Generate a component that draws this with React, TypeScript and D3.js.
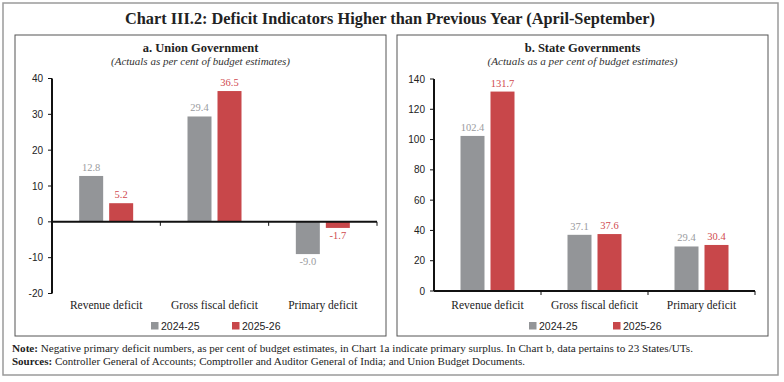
import React from "react";
import * as d3 from "d3";

const categories = ["Revenue deficit", "Gross fiscal deficit", "Primary deficit"];
const seriesNames = ["2024-25", "2025-26"];
const unionPrev = [12.8, 29.4, -9.0];
const unionCurr = [5.2, 36.5, -1.7];
const statePrev = [102.4, 37.1, 29.4];
const stateCurr = [131.7, 37.6, 30.4];
const unionTicks = [-20, -10, 0, 10, 20, 30, 40];
const stateTicks = [0, 20, 40, 60, 80, 100, 120, 140];

const GRAY = "#939598";
const RED = "#c8474a";
const GRAY_TXT = "#9a9b9e";
const RED_TXT = "#d04a4f";
const SERIF = "'Liberation Serif', 'DejaVu Serif', serif";
const SANS = "'Liberation Sans', Arial, sans-serif";

type PanelProps = {
  x0: number; x1: number; y0: number; y1: number;
  title: string; subtitle: string; subW: number;
  axisX: number; plotRight: number; yTop: number; yBot: number;
  domain: [number, number]; ticks: number[];
  prev: number[]; curr: number[];
  legendX: number[];
};

function Panel(p: PanelProps) {
  const y = d3.scaleLinear().domain(p.domain).range([p.yBot, p.yTop]);
  const x = d3.scaleBand<string>().domain(categories).range([p.axisX, p.plotRight]);
  const bw = 24;
  const gap = 6;
  const cx = (p.x0 + p.x1) / 2;
  const zeroY = y(0);
  return (
    <g>
      <rect x={p.x0} y={p.y0} width={p.x1 - p.x0} height={p.y1 - p.y0} fill="#fff" stroke="#555" strokeWidth={1} />
      <text x={cx} y={52} textAnchor="middle" fontFamily={SERIF} fontWeight="bold" fontSize={12.5} fill="#222">{p.title}</text>
      <text x={cx} y={65} textAnchor="middle" fontFamily={SERIF} fontStyle="italic" fontSize={10.5} fill="#333" textLength={p.subW} lengthAdjust="spacingAndGlyphs">{p.subtitle}</text>
      <line x1={p.axisX} x2={p.axisX} y1={p.yTop} y2={p.yBot} stroke="#111" strokeWidth={2} />
      {p.ticks.map((t) => (
        <g key={t}>
          <line x1={p.axisX - 4} x2={p.axisX} y1={y(t)} y2={y(t)} stroke="#111" strokeWidth={1} />
          <text x={p.axisX - 9} y={y(t) + 3.5} textAnchor="end" fontFamily={SANS} fontSize={10} fill="#222">{t}</text>
        </g>
      ))}
      {categories.map((c, i) => {
        const mid = (x(c) as number) + x.bandwidth() / 2;
        const vals = [p.prev[i], p.curr[i]];
        return (
          <g key={c}>
            {vals.map((v, j) => {
              const bx = j === 0 ? mid - gap / 2 - bw : mid + gap / 2;
              const top = Math.min(y(v), zeroY);
              const h = Math.abs(y(v) - zeroY);
              const ly = v >= 0 ? y(v) - 5 : y(v) + 11;
              return (
                <g key={j}>
                  <rect x={bx} y={top} width={bw} height={h} fill={j === 0 ? GRAY : RED} />
                  <text x={bx + bw / 2} y={ly} textAnchor="middle" fontFamily={SERIF} fontSize={10.5} fill={j === 0 ? GRAY_TXT : RED_TXT}>{v.toFixed(1)}</text>
                </g>
              );
            })}
            <text x={mid} y={309} textAnchor="middle" fontFamily={SERIF} fontSize={11.5} fill="#222">{c}</text>
            <line x1={(x(c) as number) + x.bandwidth()} x2={(x(c) as number) + x.bandwidth()} y1={zeroY} y2={zeroY + 4} stroke="#111" strokeWidth={1} />
          </g>
        );
      })}
      <line x1={p.axisX} x2={p.plotRight} y1={zeroY} y2={zeroY} stroke="#111" strokeWidth={2} />
      {seriesNames.map((s, j) => (
        <g key={s}>
          <rect x={p.legendX[j]} y={322} width={7.5} height={7.5} fill={j === 0 ? GRAY : RED} />
          <text x={p.legendX[j] + 10} y={330} fontFamily={SANS} fontSize={10.5} fill="#222">{s}</text>
        </g>
      ))}
    </g>
  );
}

export default function App() {
  return (
    <svg width={784} height={382} style={{ position: "absolute", left: 0, top: 0, background: "#fff" }}>
      <rect x={3} y={3} width={775} height={372} fill="#fff" stroke="#9a9a9a" strokeWidth={1.5} />
      <text x={390} y={24} textAnchor="middle" fontFamily={SERIF} fontWeight="bold" fontSize={17} fill="#222" textLength={530} lengthAdjust="spacingAndGlyphs">Chart III.2: Deficit Indicators Higher than Previous Year (April-September)</text>
      <Panel x0={15} x1={386} y0={35} y1={336} title="a. Union Government" subtitle="(Actuals as per cent of budget estimates)" subW={179}
        axisX={52} plotRight={377} yTop={78.5} yBot={293.5} domain={[-20, 40]} ticks={unionTicks}
        prev={unionPrev} curr={unionCurr} legendX={[151, 232]} />
      <Panel x0={397} x1={768} y0={35} y1={336} title="b. State Governments" subtitle="(Actuals as a per cent of budget estimates)" subW={190}
        axisX={434} plotRight={755} yTop={79} yBot={291} domain={[0, 140]} ticks={stateTicks}
        prev={statePrev} curr={stateCurr} legendX={[529, 613]} />
      <text x={12} y={352} fontFamily={SERIF} fontSize={9.5} fill="#222" textLength={681} lengthAdjust="spacingAndGlyphs"><tspan fontWeight="bold">Note:</tspan> Negative primary deficit numbers, as per cent of budget estimates, in Chart 1a indicate primary surplus. In Chart b, data pertains to 23 States/UTs.</text>
      <text x={12} y={365} fontFamily={SERIF} fontSize={9.5} fill="#222" textLength={513} lengthAdjust="spacingAndGlyphs"><tspan fontWeight="bold">Sources:</tspan> Controller General of Accounts; Comptroller and Auditor General of India; and Union Budget Documents.</text>
    </svg>
  );
}
